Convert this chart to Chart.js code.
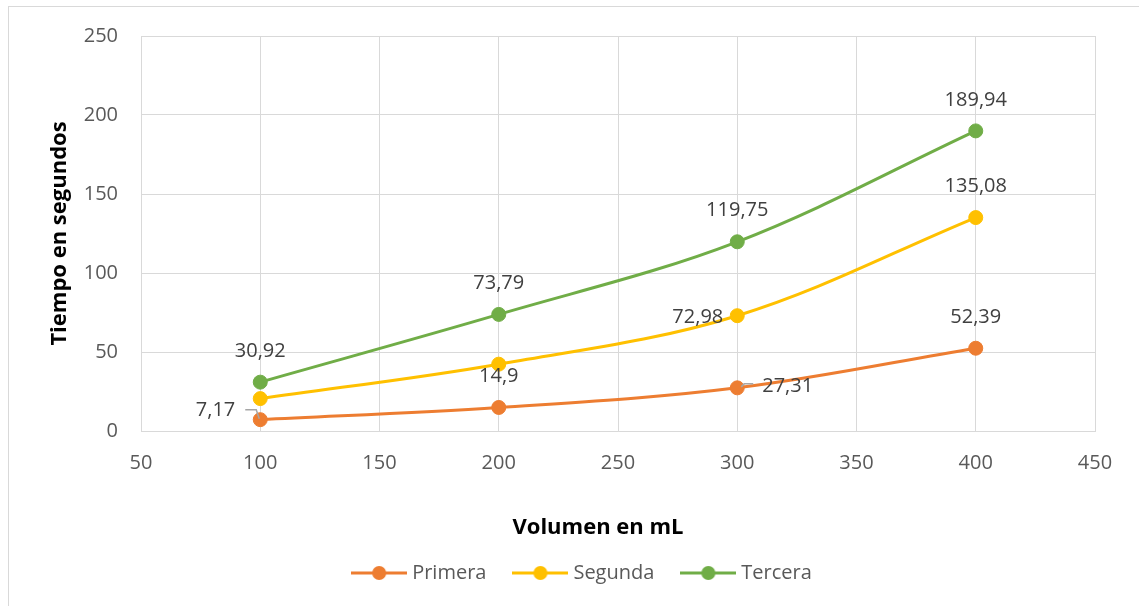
<!DOCTYPE html>
<html>
<head>
<meta charset="utf-8">
<title>Tiempo en segundos por volumen</title>
<script src="https://cdn.jsdelivr.net/npm/chart.js@4.4.1/dist/chart.umd.min.js"></script>
<style>
  html, body { margin: 0; padding: 0; background: #fff; overflow: hidden; }
  #frame { position: absolute; left: 8px; top: 6px; width: 1200px; height: 700px;
           border: 1px solid #d9d9d9; box-sizing: border-box; }
  #wrap { position: absolute; left: 0; top: 0; width: 1139px; height: 606px; }
</style>
</head>
<body>
<div id="frame"></div>
<div id="wrap"><canvas id="chart" width="1139" height="606"></canvas></div>
<script>
// Volumes (mL) and measured times (s) for each run
const volumes = [100, 200, 300, 400];
const primera = [7.17, 14.9, 27.31, 52.39];
const segunda = [20.5, 42.3, 72.98, 135.08];
const tercera = [30.92, 73.79, 119.75, 189.94];
const seriesNames = ['Primera', 'Segunda', 'Tercera'];
const xTickValues = [50, 100, 150, 200, 250, 300, 350, 400, 450];
const yTickValues = [0, 50, 100, 150, 200, 250];
const xTitle = 'Volumen en mL';
const yTitle = 'Tiempo en segundos';

const colors = ['#ED7D31', '#FFC000', '#70AD47'];

// Where each value label sits relative to its point (null = no label)
const labelSpots = [
  ['leftLeader', 'above', 'rightLeader', 'above'],
  [null, null, 'left', 'above'],
  ['above', 'above', 'above', 'above']
];

const FONT = '"Open Sans", Lato, sans-serif';

function legendIcon(color) {
  const c = document.createElement('canvas');
  c.width = 56; c.height = 16;
  const g = c.getContext('2d');
  g.strokeStyle = color; g.lineWidth = 3;
  g.beginPath(); g.moveTo(0, 8); g.lineTo(56, 8); g.stroke();
  g.fillStyle = color;
  g.beginPath(); g.arc(28, 8, 7, 0, Math.PI * 2); g.fill();
  return c;
}
const legendIcons = colors.map(legendIcon);

function toPoints(values) {
  return volumes.map((v, i) => ({ x: v, y: values[i] }));
}

function series(name, values, color) {
  return {
    label: name,
    data: toPoints(values),
    borderColor: color,
    backgroundColor: color,
    borderWidth: 3,
    tension: 0.35,
    pointRadius: 7,
    pointHoverRadius: 7,
    pointBackgroundColor: color,
    pointBorderColor: color,
    pointBorderWidth: 1,
    fill: false
  };
}

const fmt = v => String(v).replace('.', ',');

// Value labels with the small leader lines for the displaced ones
const valueLabels = {
  id: 'valueLabels',
  afterDatasetsDraw(chart) {
    const ctx = chart.ctx;
    ctx.save();
    ctx.font = '20px ' + FONT;
    ctx.fillStyle = '#404040';
    ctx.textBaseline = 'middle';
    const sources = [primera, segunda, tercera];
    chart.data.datasets.forEach((ds, di) => {
      const meta = chart.getDatasetMeta(di);
      meta.data.forEach((pt, i) => {
        const spot = labelSpots[di][i];
        if (!spot) return;
        const text = fmt(sources[di][i]);
        const px = pt.x, py = pt.y;
        if (spot === 'above') {
          ctx.textAlign = 'center';
          ctx.fillText(text, px, py - 31);
        } else if (spot === 'left') {
          ctx.textAlign = 'right';
          ctx.fillText(text, px - 14, py + 2);
        } else if (spot === 'leftLeader') {
          ctx.strokeStyle = '#a6a6a6'; ctx.lineWidth = 1.5;
          ctx.beginPath();
          ctx.moveTo(px - 15, py - 10); ctx.lineTo(px - 4, py - 10); ctx.lineTo(px - 1, py - 1);
          ctx.stroke();
          ctx.textAlign = 'right';
          ctx.fillText(text, px - 25, py - 9);
        } else if (spot === 'rightLeader') {
          ctx.strokeStyle = '#a6a6a6'; ctx.lineWidth = 1.5;
          ctx.beginPath();
          ctx.moveTo(px + 4, py - 1); ctx.lineTo(px + 7, py - 4); ctx.lineTo(px + 16, py - 4);
          ctx.stroke();
          ctx.textAlign = 'left';
          ctx.fillText(text, px + 25, py - 2);
        }
      });
    });
    ctx.restore();
  }
};

// Horizontal axis caption, centred on the whole chart frame
const xCaption = {
  id: 'xCaption',
  afterDraw(chart, args, opts) {
    const ctx = chart.ctx;
    ctx.save();
    ctx.font = 'bold 22px ' + FONT;
    ctx.fillStyle = '#000';
    ctx.textAlign = 'center';
    ctx.textBaseline = 'middle';
    ctx.fillText(opts.text, opts.x, opts.y);
    ctx.restore();
  }
};

new Chart(document.getElementById('chart'), {
  type: 'line',
  data: {
    datasets: [
      series(seriesNames[0], primera, colors[0]),
      series(seriesNames[1], segunda, colors[1]),
      series(seriesNames[2], tercera, colors[2])
    ]
  },
  options: {
    responsive: false,
    animation: false,
    events: [],
    layout: { padding: { top: 36, left: 29, right: 0, bottom: 13 } },
    scales: {
      x: {
        type: 'linear',
        min: 50, max: 450,
        afterBuildTicks: s => { s.ticks = xTickValues.map(v => ({ value: v })); },
        afterFit: s => { s.height = 101; },
        grid: { color: '#d9d9d9', lineWidth: 1, drawTicks: false },
        border: { display: true, color: '#d9d9d9', width: 1 },
        ticks: { color: '#595959', font: { family: FONT, size: 20 }, padding: 20, maxRotation: 0 },
        title: { display: false }
      },
      y: {
        type: 'linear',
        position: 'left',
        min: 0, max: 250,
        afterBuildTicks: s => { s.ticks = yTickValues.map(v => ({ value: v })); },
        afterFit: s => { s.width = 112; },
        grid: { color: '#d9d9d9', lineWidth: 1, drawTicks: false },
        border: { display: true, color: '#d9d9d9', width: 1 },
        ticks: { color: '#595959', font: { family: FONT, size: 20 }, padding: 23 },
        title: {
          display: true, text: yTitle, color: '#000',
          font: { family: FONT, size: 22, weight: 'bold' },
          padding: { top: 18, bottom: 0 }
        }
      },
      yRight: {
        type: 'linear',
        position: 'right',
        display: true,
        afterFit: s => { s.width = 44; },
        grid: { display: false },
        border: { display: false },
        ticks: { display: false },
        title: { display: false }
      }
    },
    plugins: {
      legend: {
        position: 'bottom',
        align: 'center',
        labels: {
          usePointStyle: true,
          pointStyleWidth: 46,
          padding: 31,
          color: '#595959',
          font: { family: FONT, size: 20 },
          generateLabels(chart) {
            const items = Chart.defaults.plugins.legend.labels.generateLabels(chart);
            items.forEach((it, i) => { it.pointStyle = legendIcons[i]; });
            return items;
          }
        }
      },
      tooltip: { enabled: false },
      xCaption: { text: xTitle, x: 598, y: 528 }
    }
  },
  plugins: [valueLabels, xCaption]
});
</script>
</body>
</html>
